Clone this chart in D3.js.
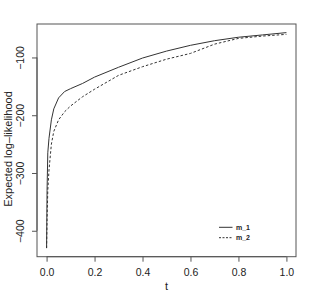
<!DOCTYPE html>
<html lang="en">
<head>
  <meta charset="UTF-8" />
  <title>Expected log-likelihood</title>
  <script src="https://d3js.org/d3.v7.min.js"></script>
  <style>
    body { margin: 0; background: white; }
    text { font-family: "Liberation Sans", Arial, sans-serif; fill: #222; }
  </style>
</head>
<body>
  <svg id="chart" width="315" height="291"></svg>
  <script>
    // data
    const tValues = [0, 0.002, 0.005, 0.01, 0.02, 0.03, 0.05, 0.075, 0.1, 0.15, 0.2, 0.3, 0.4, 0.5, 0.6, 0.7, 0.8, 0.9, 1.0];
    const m1 = [-430, -330, -265, -240, -208, -189, -170, -159, -154, -145, -134, -117, -101, -89, -79, -71, -65, -61, -57];
    const m2 = [-430, -380, -330, -295, -250, -228, -208, -194, -184, -168, -155, -131, -116, -103, -93, -77, -67, -63, -60];
    const xTicks = [0, 0.2, 0.4, 0.6, 0.8, 1.0];
    const yTicks = [-400, -300, -200, -100];
    const seriesNames = ['m_1', 'm_2'];

    const svg = d3.select('#chart');
    const mLeft = 37, mRight = 296, mTop = 24, mBottom = 256.7;
    const font = '"Liberation Sans", Arial, sans-serif';

    // R style 4% padding
    const pad = (lo, hi) => [lo - (hi - lo) * 0.04, hi + (hi - lo) * 0.04];
    const allY = m1.concat(m2);
    const x = d3.scaleLinear().domain(pad(0, 1)).range([mLeft, mRight]);
    const y = d3.scaleLinear().domain(pad(d3.min(allY), d3.max(allY))).range([mBottom, mTop]);

    const line = d3.line().x(d => x(d[0])).y(d => y(d[1]));

    svg.append('path')
      .attr('d', line(tValues.map((t, i) => [t, m2[i]])))
      .attr('fill', 'none')
      .attr('stroke', '#333')
      .attr('stroke-width', 1)
      .attr('stroke-dasharray', '2.5,2');

    svg.append('path')
      .attr('d', line(tValues.map((t, i) => [t, m1[i]])))
      .attr('fill', 'none')
      .attr('stroke', '#333')
      .attr('stroke-width', 1);

    // box
    svg.append('rect')
      .attr('x', mLeft).attr('y', mTop)
      .attr('width', mRight - mLeft).attr('height', mBottom - mTop)
      .attr('fill', 'none').attr('stroke', '#555').attr('stroke-width', 1);

    // x axis
    const xAxis = svg.append('g').attr('transform', `translate(0,${mBottom})`)
      .call(d3.axisBottom(x).tickValues(xTicks).tickFormat(d3.format('.1f')).tickSize(5));
    xAxis.select('.domain').attr('d', `M${x(0)},0H${x(1)}`).attr('stroke', '#555');
    xAxis.selectAll('.tick line').attr('stroke', '#555');
    xAxis.selectAll('text')
      .attr('font-size', '10.5px').attr('font-family', font).style('fill', '#222')
      .attr('y', 19).attr('dy', null);

    // y axis
    const yAxis = svg.append('g').attr('transform', `translate(${mLeft},0)`)
      .call(d3.axisLeft(y).tickValues(yTicks).tickSize(5));
    yAxis.select('.domain').attr('d', `M0,${y(-400)}V${y(-100)}`).attr('stroke', '#555');
    yAxis.selectAll('.tick line').attr('stroke', '#555');
    yAxis.selectAll('text')
      .attr('font-size', '10.5px').attr('font-family', font).style('fill', '#222')
      .attr('x', 0).attr('y', 0).attr('dy', null)
      .attr('text-anchor', 'middle')
      .attr('transform', 'translate(-13.5,0) rotate(-90)');

    // titles
    svg.append('text')
      .attr('x', (mLeft + mRight) / 2).attr('y', 289.5)
      .attr('text-anchor', 'middle').attr('font-size', '11px')
      .text('t');
    svg.append('text')
      .attr('transform', 'translate(11.5,149) rotate(-90)')
      .attr('text-anchor', 'middle').attr('font-size', '11px')
      .text('Expected log\u2013likelihood');

    // legend
    const legend = svg.append('g').attr('transform', 'translate(219,227.3)');
    seriesNames.forEach((name, i) => {
      const g = legend.append('g').attr('transform', `translate(0,${i * 10.4})`);
      g.append('line')
        .attr('x1', 0).attr('x2', 13.5).attr('y1', 0).attr('y2', 0)
        .attr('stroke', '#333').attr('stroke-width', 1)
        .attr('stroke-dasharray', i === 1 ? '2,1.5' : null);
      g.append('text')
        .attr('x', 17).attr('y', 2.5)
        .attr('font-size', '7px').attr('font-weight', 'bold')
        .text(name);
    });
  </script>
</body>
</html>
